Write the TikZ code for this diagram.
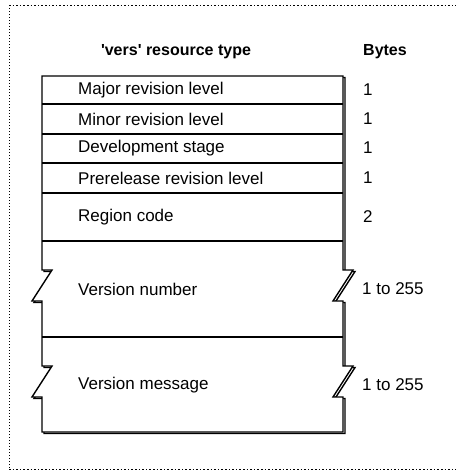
\documentclass[tikz,border=0pt]{standalone}
\usepackage{fontspec}
\setmainfont{Liberation Sans}
\begin{document}
\begin{tikzpicture}[x=1pt,y=-1pt,
  outline/.style={line width=1.4pt,line join=miter},
  sep/.style={line width=1.2pt},
  lbl/.style={anchor=west,inner sep=0pt,font=\fontsize{17}{17}\selectfont},
  hdr/.style={inner sep=0pt,font=\bfseries\fontsize{16}{16}\selectfont},
  frameline/.style={line width=1pt}]
\useasboundingbox (0,0) rectangle (456,472);
% dotted frame
\draw[frameline,dash pattern=on 1.6pt off 2pt] (9,5) -- (456,5);
\draw[frameline,dash pattern=on 1.6pt off 2pt] (9,469) -- (456,469);
\draw[frameline,dash pattern=on 1pt off 2pt] (9,5) -- (9,469);
% box outline with zigzag breaks
\def\boxpath{(42,76) -- (343,76) -- (343,270) -- (353,270) -- (333,301) -- (343,301)
  -- (343,366) -- (353,366) -- (333,397) -- (343,397) -- (343,432) -- (42,432)
  -- (42,397) -- (32,397) -- (52,366) -- (42,366) -- (42,301) -- (32,301)
  -- (52,270) -- (42,270) -- cycle}
\draw[outline,shift={(2,1.5)}] \boxpath;
\draw[outline,fill=white] \boxpath;
% separators
\coordinate (l1) at (42,104); \coordinate (r1) at (343,104);
\coordinate (l2) at (42,134); \coordinate (r2) at (343,134);
\coordinate (l3) at (42,163); \coordinate (r3) at (343,163);
\coordinate (l4) at (42,193); \coordinate (r4) at (343,193);
\coordinate (l5) at (42,241); \coordinate (r5) at (343,241);
\coordinate (l6) at (42,337); \coordinate (r6) at (343,337);
\foreach \i in {1,...,6} \draw[sep] (l\i) -- (r\i);
% headers
\node[hdr] (h1) at (176,52) {\textquotesingle vers\textquotesingle{} resource type};
\node[hdr,anchor=west] (h2) at (363,52) {Bytes};
% field labels
\node[lbl] (f1) at (78,90) {Major revision level};
\node[lbl] (f2) at (78,119) {Minor revision level};
\node[lbl] (f3) at (78,148) {Development stage};
\node[lbl] (f4) at (78,178) {Prerelease revision level};
\node[lbl] (f5) at (78,217) {Region code};
\node[lbl] (f6) at (78,289) {Version number};
\node[lbl] (f7) at (78,385) {Version message};
% byte counts
\node[lbl] (b1) at (363,90) {1};
\node[lbl] (b2) at (363,119) {1};
\node[lbl] (b3) at (363,148) {1};
\node[lbl] (b4) at (363,178) {1};
\node[lbl] (b5) at (363,217) {2};
\node[lbl] (b6) at (362,289) {1 to 255};
\node[lbl] (b7) at (362,385) {1 to 255};
\end{tikzpicture}
\end{document}
